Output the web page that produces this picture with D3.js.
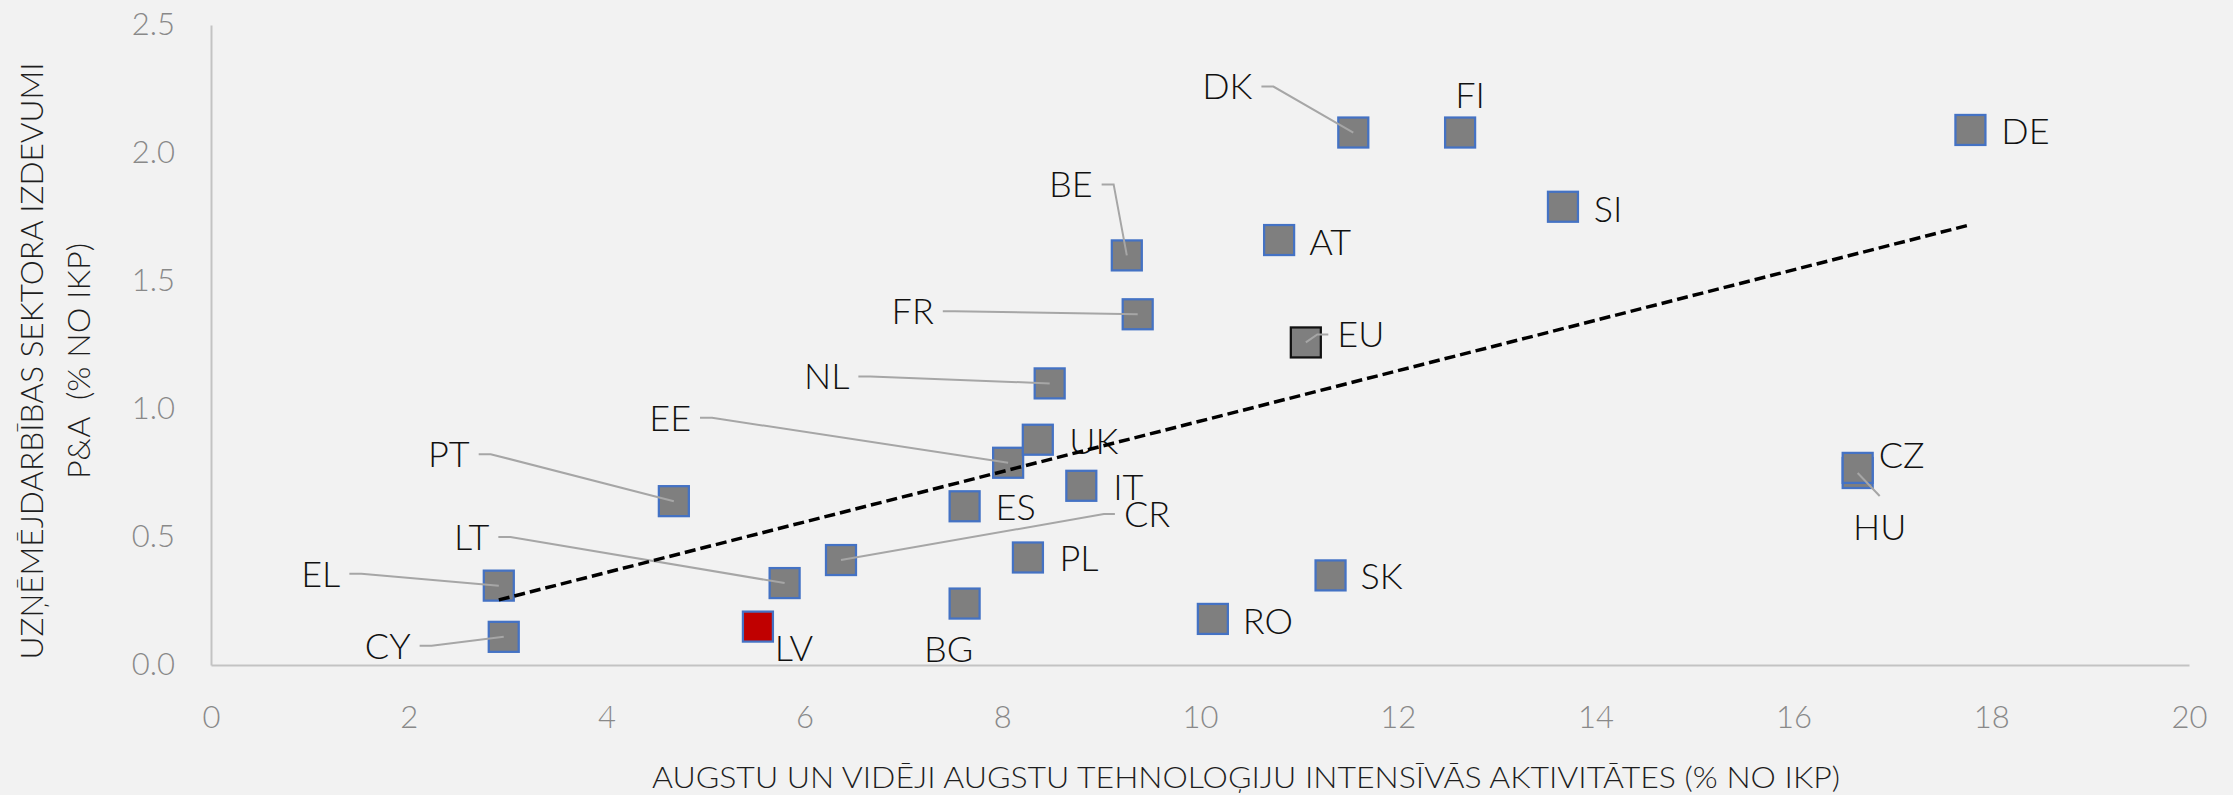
<!DOCTYPE html>
<html>
<head>
<meta charset="utf-8">
<script src="https://cdn.jsdelivr.net/npm/d3@7"></script>
<style>
  body { margin: 0; background: #f2f2f2; }
  svg { display: block; font-family: Lato, "Open Sans", sans-serif; font-weight: 300; }
</style>
</head>
<body>
<div id="chart"></div>
<script>
// valstis un vērtības (nolasītas no attēla)
var countries = ["CY", "EL", "PT", "LT", "LV", "CR", "BG", "ES", "EE", "UK", "PL", "IT", "NL", "FR", "BE", "RO", "AT", "EU", "SK", "DK", "FI", "SI", "HU", "CZ", "DE"];
var hiTech = [2.96, 2.91, 4.68, 5.80, 5.53, 6.37, 7.62, 7.62, 8.06, 8.36, 8.26, 8.80, 8.48, 9.37, 9.26, 10.13, 10.80, 11.07, 11.32, 11.55, 12.63, 13.67, 16.65, 16.65, 17.79];
var rdSpend = [0.11, 0.31, 0.64, 0.32, 0.15, 0.41, 0.24, 0.62, 0.79, 0.88, 0.42, 0.70, 1.10, 1.37, 1.60, 0.18, 1.66, 1.26, 0.35, 2.08, 2.08, 1.79, 0.75, 0.77, 2.09];
var xTicks = [0, 2, 4, 6, 8, 10, 12, 14, 16, 18, 20];
var yTicks = [0, 0.5, 1.0, 1.5, 2.0, 2.5];

var xTitle = "AUGSTU UN VIDĒJI AUGSTU TEHNOLOĢIJU INTENSĪVĀS AKTIVITĀTES (% NO IKP)";
var yTitle = ["UZŅĒMĒJDARBĪBAS SEKTORA IZDEVUMI", "P&A  (% NO IKP)"];

// etiķešu novietojums attiecībā pret punktu (px) un līnijas virziens
var labelLayout = {
  CY: [-116, 9, "left"], EL: [-178, -12, "left"], PT: [-225, -47, "left"], LT: [-313, -46, "left"],
  LV: [36, 21], CR: [306, -46, "right"], BG: [-16, 45], ES: [51, 1], EE: [-338, -45, "left"],
  UK: [56, 1], PL: [51, 1], IT: [47, 1], NL: [-223, -7, "left"], FR: [-225, -3, "left"],
  BE: [-56, -71, "left"], RO: [55, 2], AT: [51, 2], EU: [55, -8, "right"], SK: [51, 1],
  DK: [-126, -46, "left"], FI: [10, -37], SI: [45, 2], CZ: [44, -13], HU: [22, 54, "top"], DE: [55, 1]
};

var width = 2233, height = 795;
var plot = {left: 211, right: 2189, top: 25, bottom: 665};

var data = countries.map(function (c, i) {
  return {name: c, x: hiTech[i], y: rdSpend[i]};
});

var svg = d3.select("#chart").append("svg")
  .attr("width", width)
  .attr("height", height);

svg.append("rect").attr("width", width).attr("height", height).attr("fill", "#f2f2f2");

var x = d3.scaleLinear().domain([0, 20]).range([plot.left, plot.right]);
var y = d3.scaleLinear().domain([0, 2.5]).range([plot.bottom, plot.top]);

// asis
var gx = svg.append("g")
  .attr("transform", "translate(0," + plot.bottom + ")")
  .call(d3.axisBottom(x).tickValues(xTicks).tickSize(0).tickPadding(41).tickFormat(d3.format("d")));
var gy = svg.append("g")
  .attr("transform", "translate(" + plot.left + ",0)")
  .call(d3.axisLeft(y).tickValues(yTicks).tickSize(0).tickPadding(36).tickFormat(d3.format(".1f")));

[gx, gy].forEach(function (g) {
  g.select(".domain").attr("stroke", "#c3c3c3").attr("stroke-width", 2);
  g.selectAll("text")
    .attr("fill", "#898989")
    .style("font-size", "31px")
    .style("font-family", "Lato, sans-serif")
    .style("font-weight", 300);
});

// asu nosaukumi
svg.append("text")
  .attr("x", 1246)
  .attr("y", 788)
  .attr("text-anchor", "middle")
  .attr("textLength", 1188)
  .attr("lengthAdjust", "spacingAndGlyphs")
  .style("font-size", "30px")
  .attr("fill", "#1e1e1e")
  .text(xTitle);

var yLens = [597, 236];
var yBase = [43, 90];
yTitle.forEach(function (t, i) {
  svg.append("text")
    .attr("transform", "translate(" + yBase[i] + ",361) rotate(-90)")
    .attr("text-anchor", "middle")
    .attr("textLength", yLens[i])
    .attr("lengthAdjust", "spacingAndGlyphs")
    .style("font-size", "32px")
    .style("white-space", "pre")
    .attr("fill", "#1e1e1e")
    .text(t);
});

// punkti
var size = 30;
svg.append("g")
  .selectAll("rect")
  .data(data)
  .enter().append("rect")
  .attr("x", function (d) { return x(d.x) - size / 2; })
  .attr("y", function (d) { return y(d.y) - size / 2; })
  .attr("width", size)
  .attr("height", size)
  .attr("fill", function (d) { return d.name === "LV" ? "#c00000" : "#7f7f7f"; })
  .attr("stroke", function (d) { return d.name === "EU" ? "#111" : "#4472c4"; })
  .attr("stroke-width", 2.25);

// etiķetes + vadlīnijas
var leaders = svg.append("g");
var labels = svg.append("g");
var fs = 36;

data.forEach(function (d) {
  var lay = labelLayout[d.name];
  var px = x(d.x), py = y(d.y);
  var cx = px + lay[0], cy = py + lay[1];
  var t = labels.append("text")
    .attr("x", cx)
    .attr("y", cy)
    .attr("dy", "0.36em")
    .attr("text-anchor", "middle")
    .style("font-size", fs + "px")
    .attr("fill", "#111")
    .text(d.name);
  var w = t.node().getComputedTextLength();
  var pts = null;
  if (lay[2] === "left") {
    pts = [[cx + w / 2 + 9, cy], [cx + w / 2 + 21, cy], [px, py]];
  } else if (lay[2] === "right") {
    pts = [[cx - w / 2 - 9, cy], [cx - w / 2 - 20, cy], [px, py]];
  } else if (lay[2] === "top") {
    pts = [[cx, cy - fs * 0.36 - 18], [px, py]];
  }
  if (pts) {
    leaders.append("path")
      .attr("d", d3.line()(pts))
      .attr("fill", "none")
      .attr("stroke", "#a6a6a6")
      .attr("stroke-width", 2);
  }
});

// lineārā tendence (mazāko kvadrātu metode, bez ES vidējā)
var pts = data.filter(function (d) { return d.name !== "EU"; });
var mx = d3.mean(pts, function (d) { return d.x; });
var my = d3.mean(pts, function (d) { return d.y; });
var slope = d3.sum(pts, function (d) { return (d.x - mx) * (d.y - my); }) /
  d3.sum(pts, function (d) { return (d.x - mx) * (d.x - mx); });
var x0 = d3.min(pts, function (d) { return d.x; }), x1 = d3.max(pts, function (d) { return d.x; });

svg.append("line")
  .attr("x1", x(x0))
  .attr("y1", y(my + slope * (x0 - mx)))
  .attr("x2", x(x1))
  .attr("y2", y(my + slope * (x1 - mx)))
  .attr("stroke", "#000")
  .attr("stroke-width", 3.5)
  .attr("stroke-dasharray", "11,5");
</script>
</body>
</html>
